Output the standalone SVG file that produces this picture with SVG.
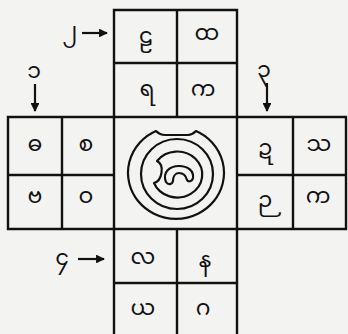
<svg xmlns="http://www.w3.org/2000/svg" width="348" height="334" viewBox="0 0 348 334">
<style>
.bg{fill:#f3f3f1}
.ln{stroke:#111;stroke-width:2.4;fill:none;stroke-linecap:square}
.ring{stroke:#111;stroke-width:2.2;fill:none;stroke-linejoin:round}
.g{font-family:"Noto Sans Myanmar","Padauk","Myanmar Text","Noto Sans",sans-serif;font-size:22px;fill:#111;text-anchor:middle;dominant-baseline:central}
.n{font-family:"Noto Sans Myanmar","Padauk","Myanmar Text","Noto Sans",sans-serif;font-size:22px;fill:#111;text-anchor:middle;dominant-baseline:central}
.ar{stroke:#111;stroke-width:2.2;fill:none}
</style>
<defs>
<marker id="ah" viewBox="0 0 10 10" refX="9" refY="5" markerWidth="4" markerHeight="4" orient="auto" markerUnits="strokeWidth">
<path d="M0,0 L10,5 L0,10 Z" fill="#111"/>
</marker>
</defs>
<rect class="bg" x="0" y="0" width="348" height="334"/>
<g id="grid">
<path class="ln" d="M114,10 V334 M237,10 V334 M177,10 V117 M177,229 V334 M114,10 H237 M114,63 H237 M8,117 H346 M8,229 H346 M8,117 V229 M62,117 V229 M8,175 H114 M346,117 V229 M293,117 V229 M237,175 H346 M114,283 H237"/>
</g>
<g id="top-block">
<text class="g" x="146" y="38">ဠ</text>
<text class="g" x="207" y="35">ထ</text>
<text class="g" x="147" y="91">ရ</text>
<text class="g" x="203" y="91">က</text>
</g>
<g id="left-block">
<text class="g" x="35" y="146">ဓ</text>
<text class="g" x="86" y="146">စ</text>
<text class="g" x="35" y="198">ဗ</text>
<text class="g" x="86" y="198">ဝ</text>
</g>
<g id="right-block">
<text class="g" x="265" y="150">ဍ</text>
<text class="g" x="319" y="146">သ</text>
<text class="g" x="265" y="202">ဉ</text>
<text class="g" x="318" y="198">က</text>
</g>
<g id="bottom-block">
<text class="g" x="143" y="259">လ</text>
<text class="g" x="205" y="262">န</text>
<text class="g" x="143" y="310">ယ</text>
<text class="g" x="203" y="310">ဂ</text>
</g>
<g id="center">
<path class="ring" d="M196,131 A48,46 0 1 1 156,131 C159,134 161,135 165,135 L188,135 C192,135 194,133 196,131 Z"/>
<ellipse class="ring" cx="177" cy="174" rx="36" ry="35"/>
<path class="ring" d="M157,161 A25,23 0 1 1 154,183 C162,181 165,165 157,161 Z"/>
<path class="ring" d="M166,182 C162,172 170,166 179,166 C188,166 194,171 193,178 C192,182 188,182 187,180 C186,176 183,173 179,173 C175,173 173,177 173,181 C172,185 168,185 166,182 Z"/>
</g>
<g id="connectors">
<g id="label-1"><text class="n" x="34" y="73">၁</text><line class="ar" x1="35" y1="84" x2="35" y2="111" marker-end="url(#ah)"/></g>
<g id="label-2"><text class="n" x="70" y="33">၂</text><line class="ar" x1="82" y1="33" x2="107" y2="33" marker-end="url(#ah)"/></g>
<g id="label-3"><text class="n" x="264" y="72">၃</text><line class="ar" x1="267" y1="83" x2="267" y2="111" marker-end="url(#ah)"/></g>
<g id="label-4"><text class="n" x="62" y="260">၄</text><line class="ar" x1="78" y1="259" x2="104" y2="259" marker-end="url(#ah)"/></g>
</g>
</svg>
